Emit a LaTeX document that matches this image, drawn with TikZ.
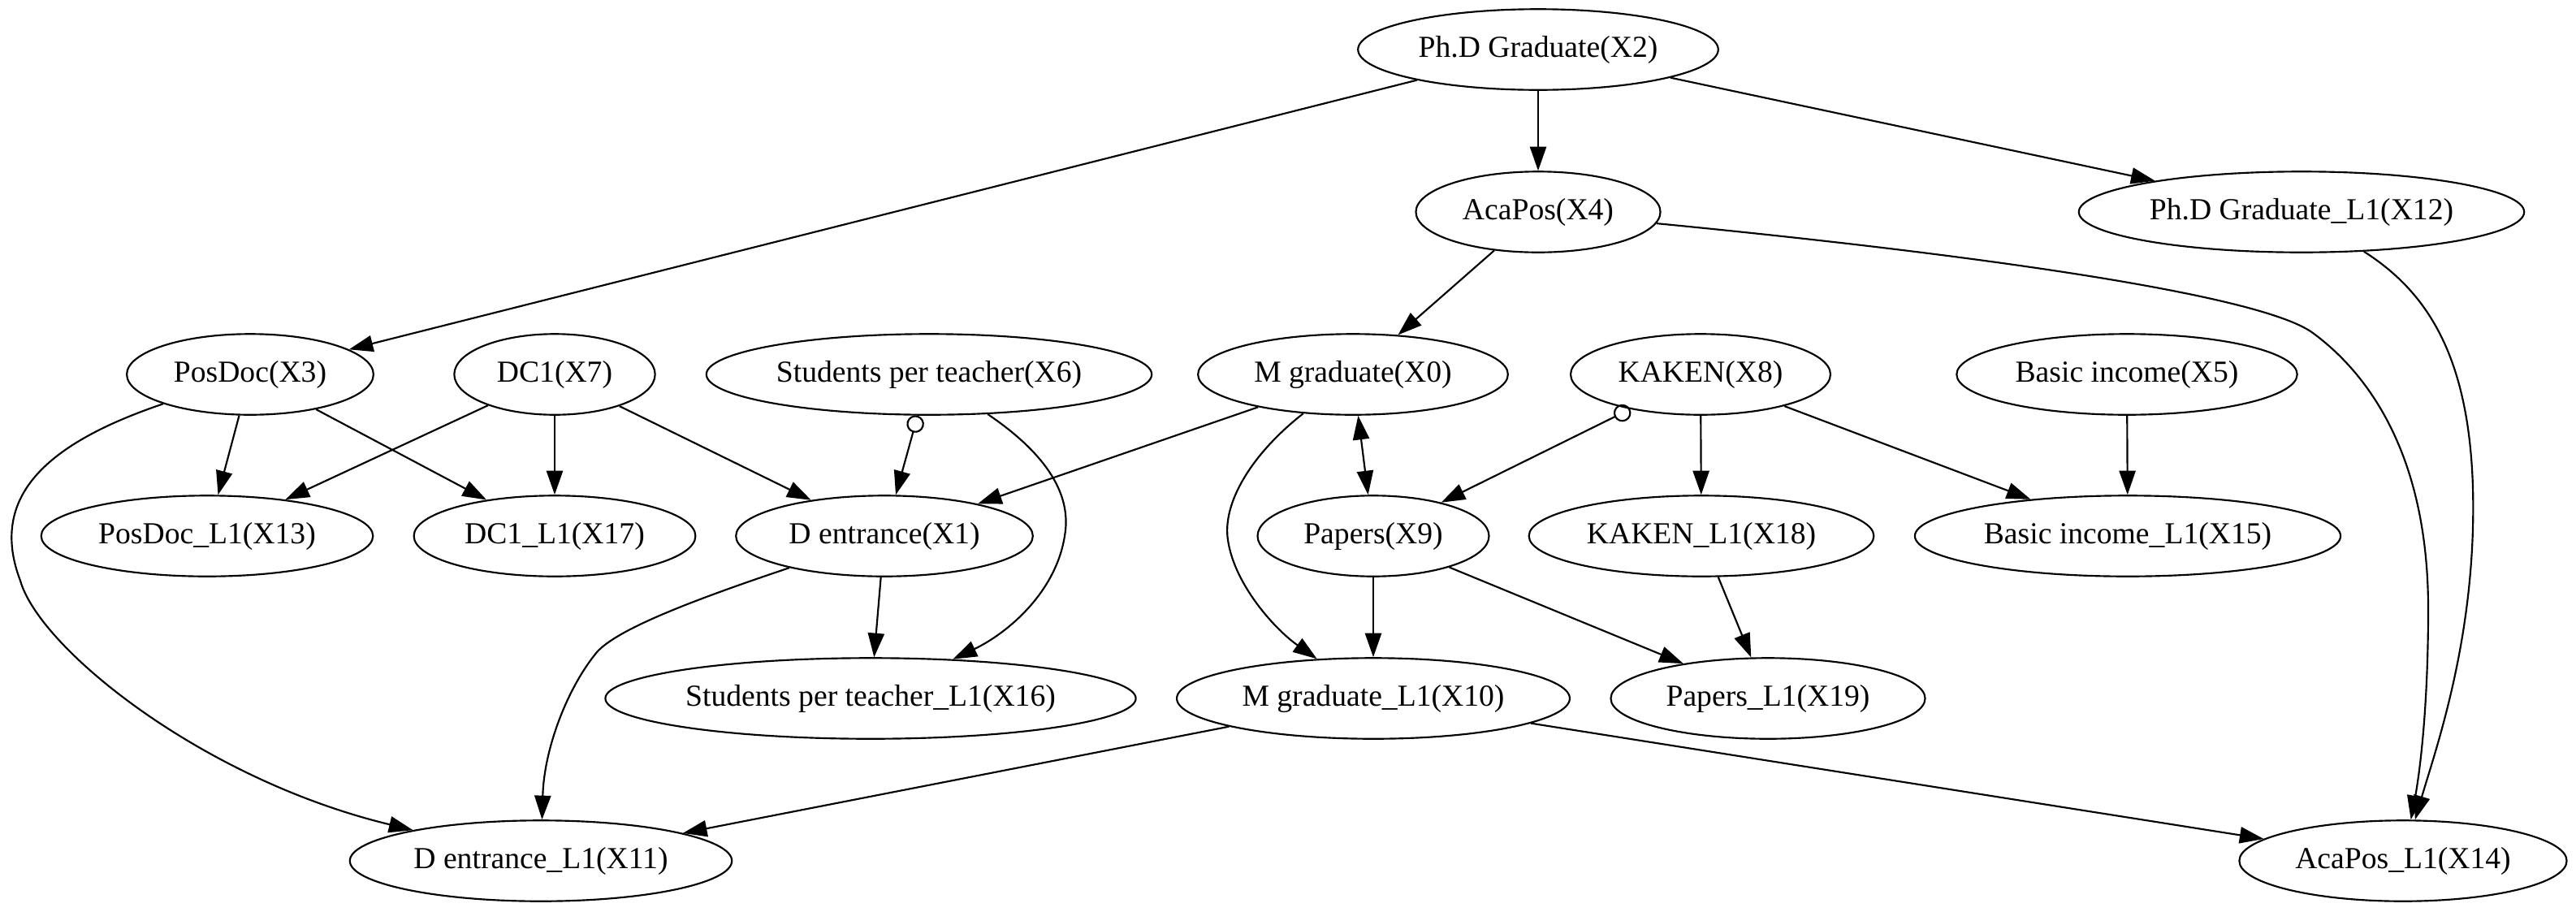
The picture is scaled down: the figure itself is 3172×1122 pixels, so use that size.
\documentclass[tikz,border=0pt]{standalone}
\usepackage{fontspec}
\setmainfont{Liberation Serif}
\usetikzlibrary{arrows.meta,shapes.geometric}

\tikzset{
        var/.style={draw,ellipse,line width=0.8pt,inner sep=0pt,minimum height=37pt,minimum width=#1pt,font=\fontsize{14pt}{16pt}\selectfont},
        arr/.style={line width=0.8pt,-{Triangle[length=11pt,width=7.5pt]}},
        oarr/.style={line width=0.8pt,{Circle[open,length=8pt,width=8pt]}-{Triangle[length=11pt,width=7.5pt]}},
        biarr/.style={line width=0.8pt,{Triangle[length=11pt,width=7.5pt]}-{Triangle[length=11pt,width=7.5pt]}}
}

\begin{document}
\begin{tikzpicture}[x=0.372pt,y=-0.372pt]
        \useasboundingbox (0,0) rectangle (3172,1122);

        \coordinate (x2) at (1894,61);
        \coordinate (x4) at (1894,261);
        \coordinate (x12) at (2834,261);
        \coordinate (x3) at (308,461);
        \coordinate (x7) at (683,461);
        \coordinate (x6) at (1144,461);
        \coordinate (x0) at (1666,461);
        \coordinate (x8) at (2094,461);
        \coordinate (x5) at (2619,461);
        \coordinate (x13) at (255,660);
        \coordinate (x17) at (683,660);
        \coordinate (x1) at (1089,660);
        \coordinate (x9) at (1691,660);
        \coordinate (x18) at (2095,660);
        \coordinate (x15) at (2620,660);
        \coordinate (x16) at (1072,860);
        \coordinate (x10) at (1691,860);
        \coordinate (x19) at (2177,860);
        \coordinate (x11) at (666,1060);
        \coordinate (x14) at (2959,1060);

        \node[var=165] (X2) at (x2) {Ph.D Graduate(X2)};
        \node[var=112] (X4) at (x4) {AcaPos(X4)};
        \node[var=204] (X12) at (x12) {Ph.D Graduate\_L1(X12)};
        \node[var=113] (X3) at (x3) {PosDoc(X3)};
        \node[var=92] (X7) at (x7) {DC1(X7)};
        \node[var=204] (X6) at (x6) {Students per teacher(X6)};
        \node[var=142] (X0) at (x0) {M graduate(X0)};
        \node[var=119] (X8) at (x8) {KAKEN(X8)};
        \node[var=156] (X5) at (x5) {Basic income(X5)};
        \node[var=152] (X13) at (x13) {PosDoc\_L1(X13)};
        \node[var=129] (X17) at (x17) {DC1\_L1(X17)};
        \node[var=136] (X1) at (x1) {D entrance(X1)};
        \node[var=106] (X9) at (x9) {Papers(X9)};
        \node[var=158] (X18) at (x18) {KAKEN\_L1(X18)};
        \node[var=195] (X15) at (x15) {Basic income\_L1(X15)};
        \node[var=243] (X16) at (x16) {Students per teacher\_L1(X16)};
        \node[var=180] (X10) at (x10) {M graduate\_L1(X10)};
        \node[var=144] (X19) at (x19) {Papers\_L1(X19)};
        \node[var=175] (X11) at (x11) {D entrance\_L1(X11)};
        \node[var=150] (X14) at (x14) {AcaPos\_L1(X14)};

        \draw[arr] (X2) -- (X3);
        \draw[arr] (X2) -- (X4);
        \draw[arr] (X2) -- (X12);
        \draw[arr] (X4) -- (X0);
        \draw[arr] (X4) .. controls (2400,310) and (2780,360) .. (2848,410) .. controls (2916,460) and (2990,560) .. (2990,750) .. controls (2990,880) and (2978,960) .. (X14);
        \draw[arr] (X12) .. controls (2990,360) and (3040,440) .. (3045,600) .. controls (3050,780) and (3000,920) .. (X14);
        \draw[arr] (X3) -- (X13);
        \draw[arr] (X3) -- (X17);
        \draw[arr] (X3) .. controls (60,545) and (-15,610) .. (25,715) .. controls (49,799) and (250,960) .. (X11);
        \draw[arr] (X7) -- (X13);
        \draw[arr] (X7) -- (X17);
        \draw[arr] (X7) -- (X1);
        \draw[oarr] (X6) -- (X1);
        \draw[arr] (X6) .. controls (1290,560) and (1320,610) .. (1311,660) .. controls (1300,730) and (1240,780) .. (X16);
        \draw[arr] (X0) -- (X1);
        \draw[arr] (X0) .. controls (1540,560) and (1505,620) .. (1512,665) .. controls (1520,720) and (1570,775) .. (X10);
        \draw[biarr] (X0) -- (X9);
        \draw[oarr] (X8) -- (X9);
        \draw[arr] (X8) -- (X18);
        \draw[arr] (X8) -- (X15);
        \draw[arr] (X5) -- (X15);
        \draw[arr] (X1) -- (X16);
        \draw[arr] (X1) .. controls (850,740) and (760,775) .. (735,803) .. controls (700,845) and (670,920) .. (X11);
        \draw[arr] (X9) -- (X10);
        \draw[arr] (X9) -- (X19);
        \draw[arr] (X18) -- (X19);
        \draw[arr] (X10) -- (X11);
        \draw[arr] (X10) -- (X14);
\end{tikzpicture}
\end{document}
